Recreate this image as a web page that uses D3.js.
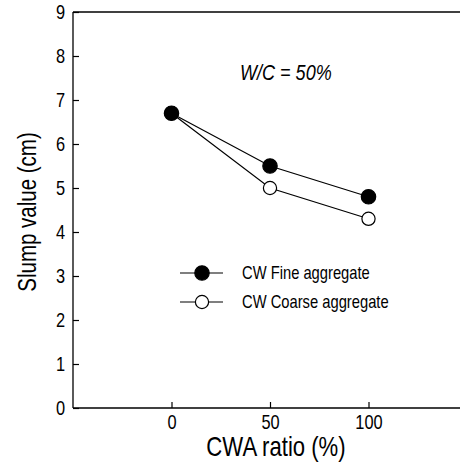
<!DOCTYPE html>
<html>
<head>
<meta charset="utf-8">
<script src="https://cdn.jsdelivr.net/npm/d3@7"></script>
<style>
  html, body { margin: 0; padding: 0; background: #fff; }
  svg text { font-family: "Liberation Sans", Arial, sans-serif; fill: #000; }
</style>
</head>
<body>
<svg id="chart" width="460" height="465"></svg>
<script>
const cwaRatio = [0, 50, 100];
const fineValues = [6.7, 5.5, 4.8];
const coarseValues = [6.7, 5.0, 4.3];
const seriesNames = ["CW Fine aggregate", "CW Coarse aggregate"];
const xTicks = [0, 50, 100];
const yTicks = [0, 1, 2, 3, 4, 5, 6, 7, 8, 9];
const xLabel = "CWA ratio (%)";
const yLabel = "Slump value (cm)";
const annotation = "W/C = 50%";

(function () {
const svg = d3.select("#chart");
const W = 460;
const mLeft = 73, mTop = 12, mBottom = 408;
const NARROW = 0.82;

const x = d3.scaleLinear().domain([-50, 150]).range([mLeft, mLeft + 200 * 1.97]);
const y = d3.scaleLinear().domain([0, 9]).range([mBottom, mTop]);

// Axes
const yAxis = d3.axisLeft(y).tickValues(yTicks).tickSize(-6).tickPadding(8).tickFormat(d3.format("d"));
const gy = svg.append("g").attr("transform", `translate(${mLeft},0)`).call(yAxis);
gy.select(".domain").remove();
gy.selectAll(".tick line").attr("stroke", "#000").attr("stroke-width", 1.2);
gy.selectAll(".tick text").style("font-size", "20px").attr("x", -8 / NARROW)
  .attr("transform", `scale(${NARROW},1)`);

const xAxis = d3.axisBottom(x).tickValues(xTicks).tickSize(-6).tickPadding(7).tickFormat(d3.format("d"));
const gx = svg.append("g").attr("transform", `translate(0,${mBottom})`).call(xAxis);
gx.select(".domain").remove();
gx.selectAll(".tick line").attr("stroke", "#000").attr("stroke-width", 1.2);
gx.selectAll(".tick text").style("font-size", "20px").attr("transform", `scale(${NARROW},1)`);

// frame lines
svg.append("line").attr("x1", mLeft).attr("x2", W).attr("y1", y(9)).attr("y2", y(9))
  .attr("stroke", "#000").attr("stroke-width", 1.3);
svg.append("line").attr("x1", mLeft).attr("x2", W).attr("y1", y(0)).attr("y2", y(0))
  .attr("stroke", "#000").attr("stroke-width", 1.3);
svg.append("line").attr("x1", mLeft).attr("x2", mLeft).attr("y1", y(9)).attr("y2", y(0))
  .attr("stroke", "#000").attr("stroke-width", 1.3);

function narrowText(px, py, size, txt, anchor, extra) {
  const t = svg.append("text")
    .attr("transform", `translate(${px},${py}) ${extra || ""} scale(${NARROW},1)`)
    .attr("text-anchor", anchor || "start").style("font-size", size + "px").text(txt);
  return t;
}

// axis labels
narrowText((x(0) + x(100)) / 2 + 6, 456, 27, xLabel, "middle");
narrowText(36, 212, 25, yLabel, "middle", "rotate(-90)");

// annotation
narrowText(240, 80, 22, annotation, "start").style("font-style", "italic");

// series
const line = d3.line().x((d, i) => x(cwaRatio[i])).y(d => y(d));
const series = [
  { name: seriesNames[0], values: fineValues, fill: "#000" },
  { name: seriesNames[1], values: coarseValues, fill: "#fff" }
];

series.slice().reverse().forEach(s => {
  svg.append("path").datum(s.values).attr("d", line)
    .attr("fill", "none").attr("stroke", "#000").attr("stroke-width", 1.2);
});
series.slice().reverse().forEach(s => {
  svg.selectAll(null).data(s.values).enter().append("circle")
    .attr("cx", (d, i) => x(cwaRatio[i])).attr("cy", d => y(d))
    .attr("r", s.fill === "#000" ? 7.2 : 6.6)
    .attr("fill", s.fill).attr("stroke", "#000").attr("stroke-width", 1.2);
});

// legend
const legY = [273, 302];
series.forEach((s, i) => {
  const g = svg.append("g");
  g.append("line").attr("x1", 180).attr("x2", 223).attr("y1", legY[i]).attr("y2", legY[i])
    .attr("stroke", "#000").attr("stroke-width", 1.2);
  g.append("circle").attr("cx", 202).attr("cy", legY[i])
    .attr("r", s.fill === "#000" ? 7.2 : 6.6)
    .attr("fill", s.fill).attr("stroke", "#000").attr("stroke-width", 1.2);
  narrowText(242, legY[i] + 6, 18, s.name, "start");
});
})();
</script>
</body>
</html>
